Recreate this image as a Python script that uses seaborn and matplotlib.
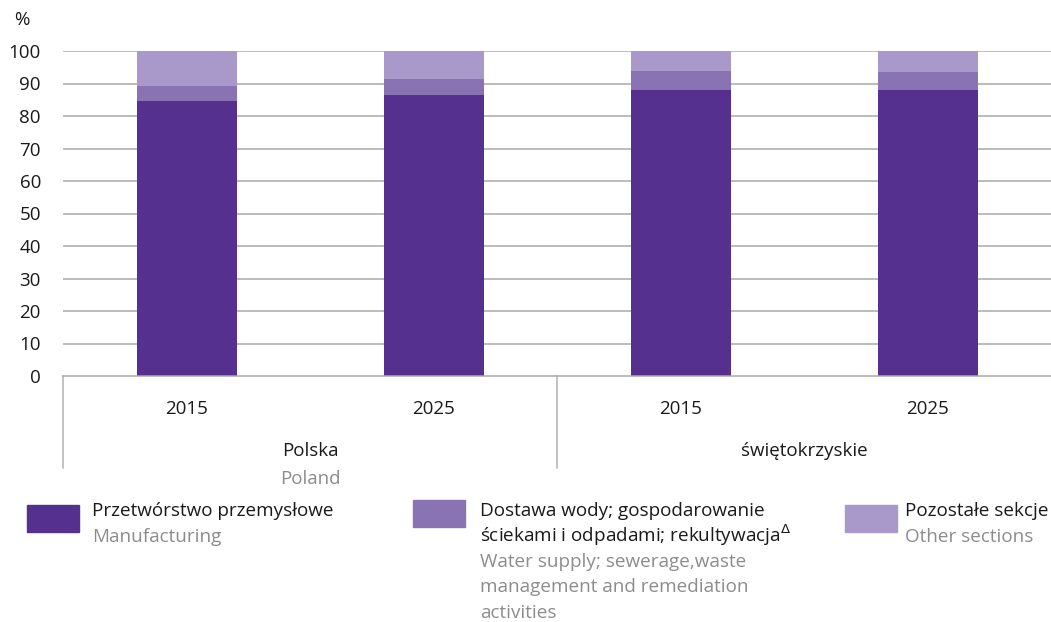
import matplotlib
matplotlib.use("Agg")
import matplotlib.pyplot as plt
import seaborn as sns
import pandas as pd
import numpy as np

# ---- data ----
regions = ["Polska", "Polska", "świętokrzyskie", "świętokrzyskie"]
years = ["2015", "2025", "2015", "2025"]
manufacturing = [84.6, 86.5, 88.0, 88.0]
water_supply = [4.6, 4.9, 5.8, 5.5]
other_sections = [10.8, 8.6, 6.2, 6.5]

group_pl = ["Polska", "świętokrzyskie"]
group_en = ["Poland", ""]

legend_pl = [["Przetwórstwo przemysłowe"],
             ["Dostawa wody; gospodarowanie",
              "ściekami i odpadami; rekultywacja$^{\\Delta}$"],
             ["Pozostałe sekcje"]]
legend_en = [["Manufacturing"],
             ["Water supply; sewerage,waste",
              "management and remediation",
              "activities"],
             ["Other sections"]]

colors = ["#56308F", "#8A73B2", "#A998CA"]

sns.set_theme(style="white")
plt.rcParams['font.family'] = ['Open Sans', 'DejaVu Sans']

df = pd.DataFrame({
    "cat": [f"{r}\n{y}" for r, y in zip(regions, years)],
    "m": manufacturing,
    "w": water_supply,
    "o": other_sections,
})
df["mw"] = df["m"] + df["w"]
df["tot"] = df["mw"] + df["o"]

W, H = 1051, 622
PX = 72 / 100  # points per pixel
fig = plt.figure(figsize=(W / 100, H / 100), dpi=100)
ax = fig.add_axes([63 / W, (H - 376) / H, (1051 - 63) / W, 325 / H])

width = 100 / 247
for col, c in zip(["tot", "mw", "m"], [colors[2], colors[1], colors[0]]):
    sns.barplot(data=df, x="cat", y=col, color=c, width=width, ax=ax,
                saturation=1, errorbar=None, zorder=2, linewidth=0)

ax.set_xlim(-0.5, 3.5)
ax.set_ylim(0, 100)
ax.set_yticks(np.arange(0, 101, 10))
for v in range(10, 101, 10):
    ax.axhline(v, color="#a9a9a9", lw=1.1, zorder=1)
ax.tick_params(axis="y", length=0, pad=22 * PX, labelsize=13.5, labelcolor="#1a1a1a")
ax.set_xticks(range(4))
ax.set_xticklabels(years)
ax.tick_params(axis="x", length=0, pad=24 * PX, labelsize=13.5, labelcolor="#1a1a1a")
ax.set_xlabel("")
ax.set_ylabel("")
for s in ["top", "right", "left"]:
    ax.spines[s].set_visible(False)
ax.spines["bottom"].set_color("#a9a9a9")
ax.spines["bottom"].set_linewidth(1.1)
ax.spines["bottom"].set_zorder(3)

# group separators
depth = (468 - 376) / 325
trans = ax.get_xaxis_transform()
for xv in [-0.5, 1.5]:
    ax.plot([xv, xv], [0, -depth], transform=trans, color="#bdbdbd", lw=1.3,
            clip_on=False)

# group labels
for i, (gp, ge) in enumerate(zip(group_pl, group_en)):
    xc = 2 * i + 0.5
    ax.text(xc, -(451 - 376) / 325, gp, transform=trans, ha="center", va="center",
            fontsize=13.5, color="#1a1a1a")
    if ge:
        ax.text(xc, -(479 - 376) / 325, ge, transform=trans, ha="center", va="center",
                fontsize=13.5, color="#8c8c8c")

fig.text(22 / W, 1 - 20 / H, "%", ha="center", va="center", fontsize=13.5, color="#1a1a1a")

# legend
sq = [(27, 505), (413, 500), (845, 505)]
tx = [92, 480, 905]
first_base = 516
step = 25.5
for i in range(3):
    x0, y0 = sq[i]
    fig.patches.append(plt.Rectangle((x0 / W, 1 - (y0 + 27) / H), 52 / W, 27 / H,
                                     transform=fig.transFigure, color=colors[i]))
    k = 0
    for line in legend_pl[i]:
        fig.text(tx[i] / W, 1 - (first_base + step * k) / H, line, ha="left",
                 va="baseline", fontsize=13.6, color="#1a1a1a")
        k += 1
    for line in legend_en[i]:
        fig.text(tx[i] / W, 1 - (first_base + step * k) / H, line, ha="left",
                 va="baseline", fontsize=13.6, color="#8c8c8c")
        k += 1

fig.savefig("out.png", dpi=100)
